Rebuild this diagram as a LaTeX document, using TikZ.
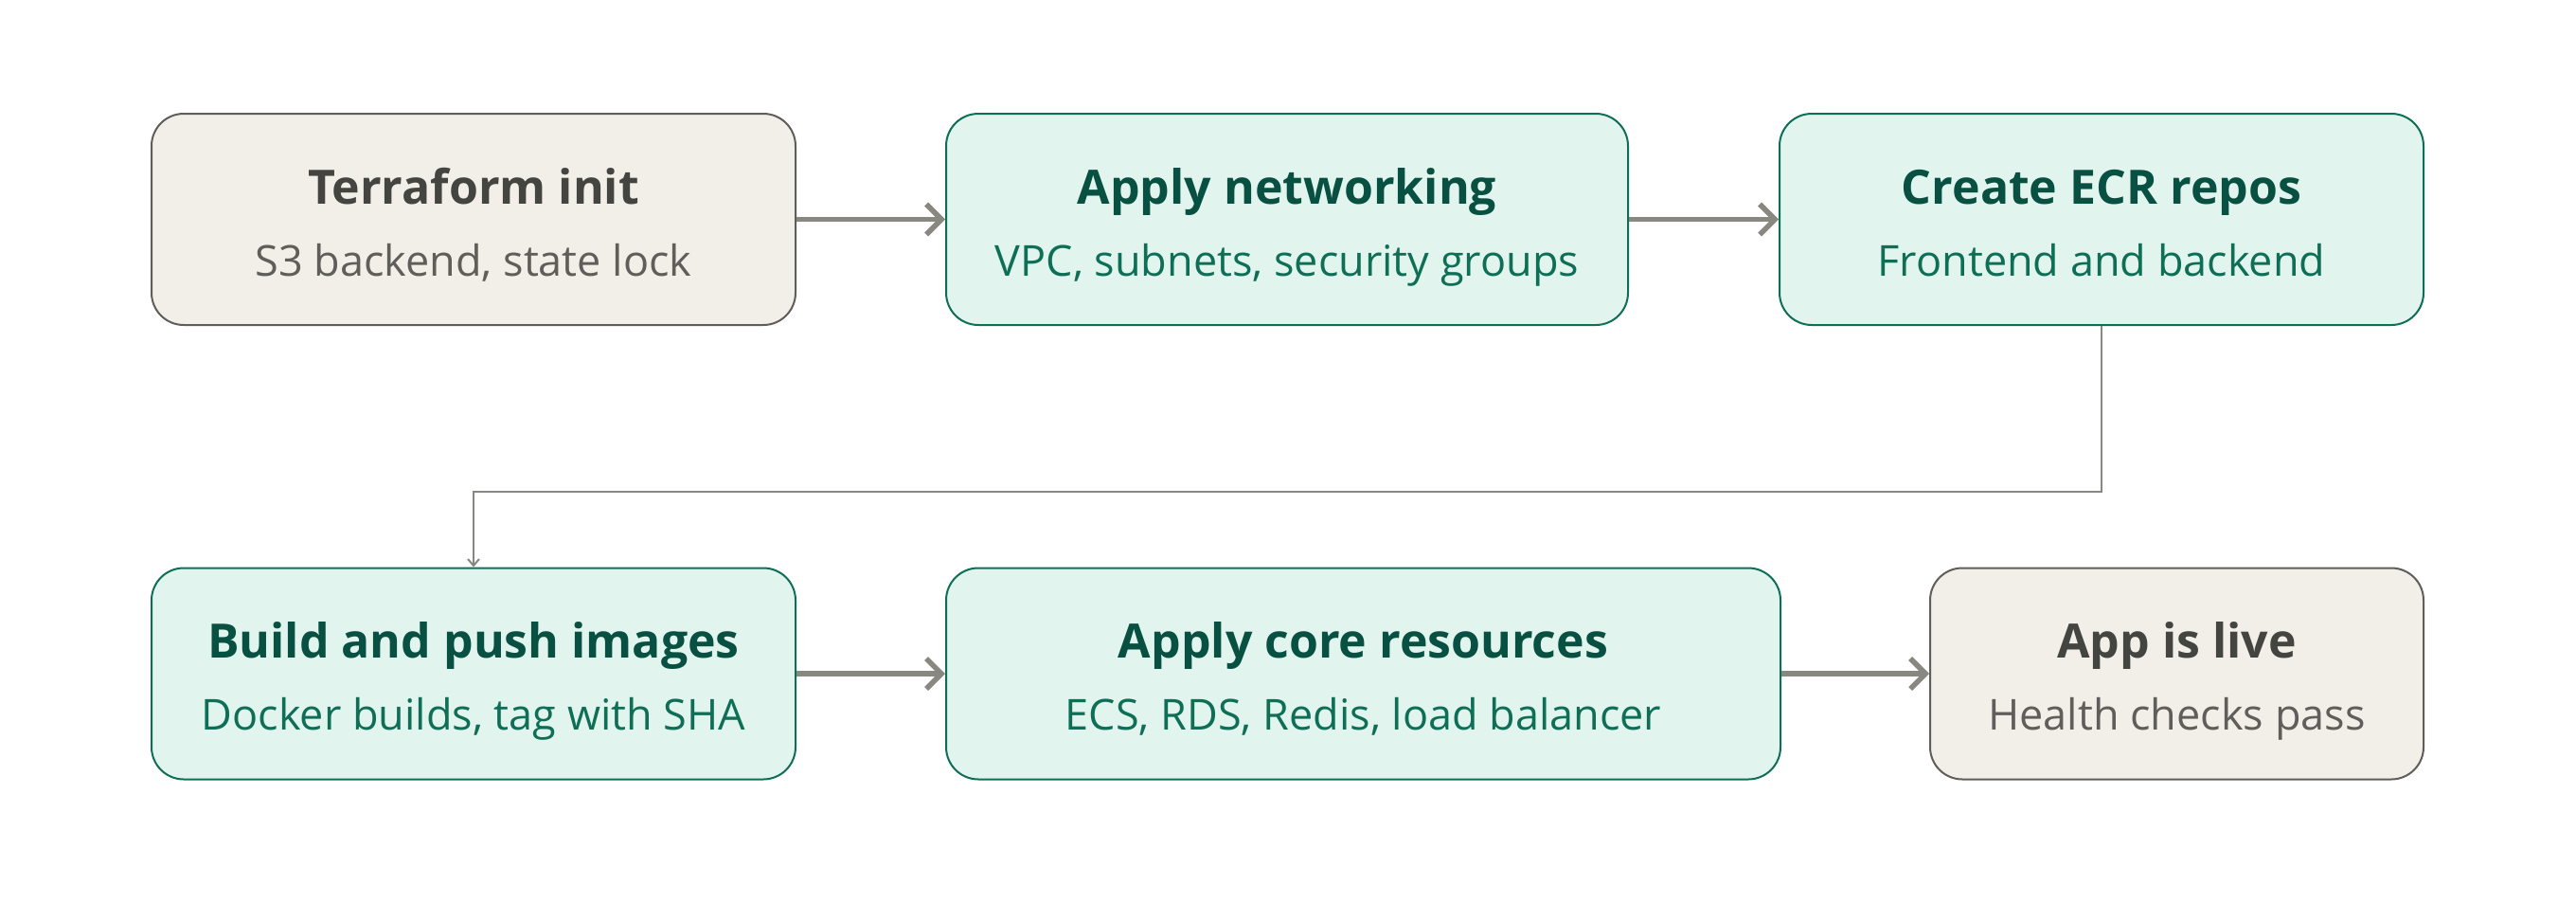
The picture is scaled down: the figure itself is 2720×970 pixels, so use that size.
\documentclass[tikz,border=0pt]{standalone}
\usepackage{fontspec}
\setmainfont{Open Sans}
\usetikzlibrary{arrows.meta}
\definecolor{greyfill}{HTML}{F1EFE8}
\definecolor{greyline}{HTML}{5F5E5A}
\definecolor{greytitle}{HTML}{444441}
\definecolor{greenfill}{HTML}{E1F5EE}
\definecolor{greenline}{HTML}{0F6E56}
\definecolor{greentitle}{HTML}{085041}
\definecolor{arrowgrey}{HTML}{888780}
\newcommand\ttl[2]{{\color{#1}\bfseries\fontsize{50}{76}\selectfont #2}}
\tikzset{
  stage/.style={rounded corners=34pt, line width=2pt, align=center, inner sep=0pt,
    minimum height=223pt, text height=125pt, text depth=6pt,
    font=\fontsize{45}{76}\selectfont},
  greystage/.style={stage, draw=greyline, fill=greyfill, text=greyline},
  greenstage/.style={stage, draw=greenline, fill=greenfill, text=greenline},
  flow/.style={draw=arrowgrey, line width=5.5pt, -{Straight Barb[length=16pt,width=32pt]}},
  link/.style={draw=arrowgrey, line width=2pt, -{Straight Barb[length=7pt,width=12pt]}},
}
\begin{document}
\begin{tikzpicture}[x=1pt,y=-1pt]
\useasboundingbox (0,0) rectangle (2720,970);
% top row
\node[greystage, minimum width=680pt] (init) at (500,231.5)
  {\ttl{greytitle}{Terraform init}\\S3 backend, state lock};
\node[greenstage, minimum width=720pt] (net) at (1359,231.5)
  {\ttl{greentitle}{Apply networking}\\VPC, subnets, security groups};
\node[greenstage, minimum width=680pt] (ecr) at (2219,231.5)
  {\ttl{greentitle}{Create ECR repos}\\Frontend and backend};
% bottom row
\node[greenstage, minimum width=680pt] (build) at (500,711)
  {\ttl{greentitle}{Build and push images}\\Docker builds, tag with SHA};
\node[greenstage, minimum width=881pt] (core) at (1439.5,711)
  {\ttl{greentitle}{Apply core resources}\\ECS, RDS, Redis, load balancer};
\node[greystage, minimum width=521pt] (live) at (2298.5,711)
  {\ttl{greytitle}{App is live}\\Health checks pass};
% connectors
\draw[flow] (init) -- (net);
\draw[flow] (net) -- (ecr);
\coordinate (turn) at (2219,519);
\draw[link] (ecr.south) -- (turn) -| (build.north);
\draw[flow] (build) -- (core);
\draw[flow] (core) -- (live);
\end{tikzpicture}
\end{document}
